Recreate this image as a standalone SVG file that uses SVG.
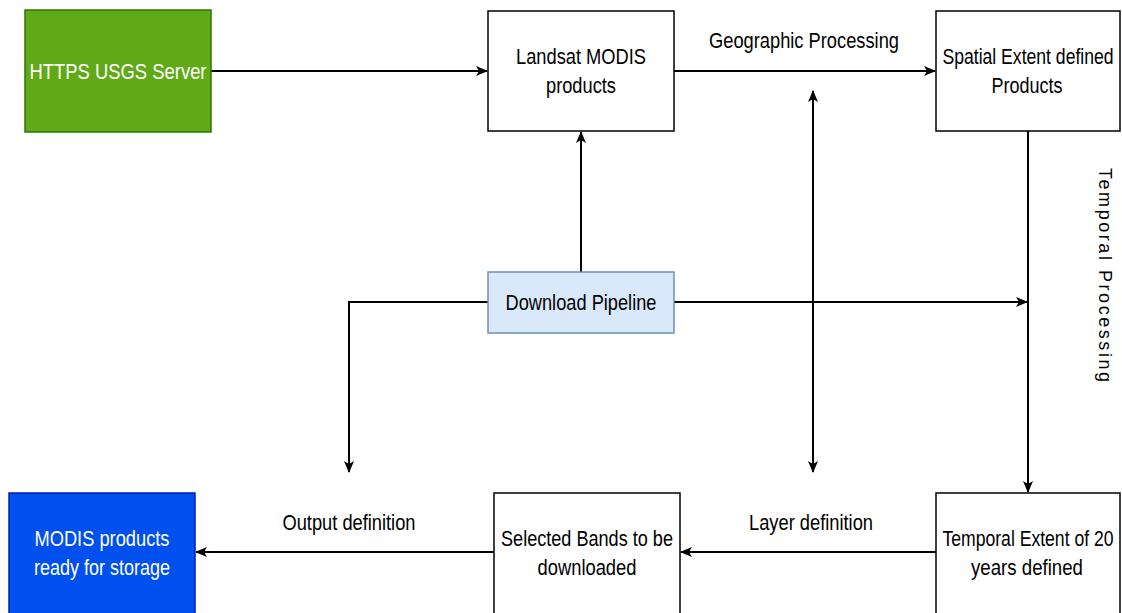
<svg xmlns="http://www.w3.org/2000/svg" width="1122" height="613" viewBox="0 0 1122 613">
<defs>
<style>
.box{fill:#ffffff;stroke:#000;stroke-width:1.5}
.t{font-family:"Liberation Sans",Arial,sans-serif;font-size:22px;fill:#000;text-anchor:middle}
.w{fill:#ffffff}
.ln{fill:none;stroke:#000;stroke-width:2}
</style>
<marker id="ah" viewBox="0 0 12 10" refX="11" refY="5" markerWidth="12" markerHeight="10" markerUnits="userSpaceOnUse" orient="auto-start-reverse">
<path d="M0,0 L12,5 L0,10 L3,5 z" fill="#000"/>
</marker>
</defs>
<rect width="1122" height="613" fill="#ffffff"/>

<g id="connectors">
<line class="ln" x1="211" y1="71" x2="487" y2="71" marker-end="url(#ah)"/>
<line class="ln" x1="674" y1="71" x2="935" y2="71" marker-end="url(#ah)"/>
<line class="ln" x1="1028" y1="131" x2="1028" y2="492" marker-end="url(#ah)"/>
<line class="ln" x1="581" y1="272" x2="581" y2="132" marker-end="url(#ah)"/>
<line class="ln" x1="674" y1="302" x2="1027" y2="302" marker-end="url(#ah)"/>
<polyline class="ln" points="488,302 349,302 349,472" marker-end="url(#ah)"/>
<line class="ln" x1="813" y1="91" x2="813" y2="472" marker-start="url(#ah)" marker-end="url(#ah)"/>
<line class="ln" x1="936" y1="552" x2="681" y2="552" marker-end="url(#ah)"/>
<line class="ln" x1="494" y1="552" x2="196" y2="552" marker-end="url(#ah)"/>
<text class="t" x="804" y="48" textLength="190" lengthAdjust="spacingAndGlyphs">Geographic Processing</text>
<text class="t" x="811" y="530" textLength="124" lengthAdjust="spacingAndGlyphs">Layer definition</text>
<text class="t" x="349" y="530" textLength="133" lengthAdjust="spacingAndGlyphs">Output definition</text>
<text class="t" transform="translate(1099,275) rotate(90)" x="0" y="0" style="font-size:18px" textLength="214" lengthAdjust="spacing">Temporal Processing</text>
</g>

<g id="https-server">
<rect x="25" y="10" width="186" height="122" fill="#60a917" stroke="#2d7600" stroke-width="1.5"/>
<text class="t w" x="118" y="79" textLength="177" lengthAdjust="spacingAndGlyphs">HTTPS USGS Server</text>
</g>

<g id="landsat">
<rect class="box" x="488" y="11" width="186" height="120"/>
<text class="t" x="581" y="64" textLength="130" lengthAdjust="spacingAndGlyphs">Landsat MODIS</text>
<text class="t" x="581" y="93" textLength="70" lengthAdjust="spacingAndGlyphs">products</text>
</g>

<g id="spatial">
<rect class="box" x="936" y="11" width="184" height="120"/>
<text class="t" transform="translate(1028,64) scale(0.8,1)" x="0" y="0">Spatial Extent defined</text>
<text class="t" x="1027" y="93" textLength="71" lengthAdjust="spacingAndGlyphs">Products</text>
</g>

<g id="download">
<rect x="488" y="272" width="186" height="61" fill="#dae8fc" stroke="#6c8ebf" stroke-width="1.5"/>
<text class="t" x="581" y="310" textLength="151" lengthAdjust="spacingAndGlyphs">Download Pipeline</text>
</g>

<g id="modis-storage">
<rect x="9" y="493" width="186" height="130" fill="#0050ef" stroke="#001dbc" stroke-width="1.5"/>
<text class="t w" x="102" y="546" textLength="135" lengthAdjust="spacingAndGlyphs">MODIS products</text>
<text class="t w" x="102" y="575" textLength="136" lengthAdjust="spacingAndGlyphs">ready for storage</text>
</g>

<g id="selected-bands">
<rect class="box" x="494" y="493" width="186" height="130"/>
<text class="t" x="587" y="546" textLength="172" lengthAdjust="spacingAndGlyphs">Selected Bands to be</text>
<text class="t" x="587" y="575" textLength="99" lengthAdjust="spacingAndGlyphs">downloaded</text>
</g>

<g id="temporal-extent">
<rect class="box" x="936" y="493" width="184" height="130"/>
<text class="t" transform="translate(1028,546) scale(0.8,1)" x="0" y="0">Temporal Extent of 20</text>
<text class="t" x="1027" y="575" textLength="112" lengthAdjust="spacingAndGlyphs">years defined</text>
</g>
</svg>
